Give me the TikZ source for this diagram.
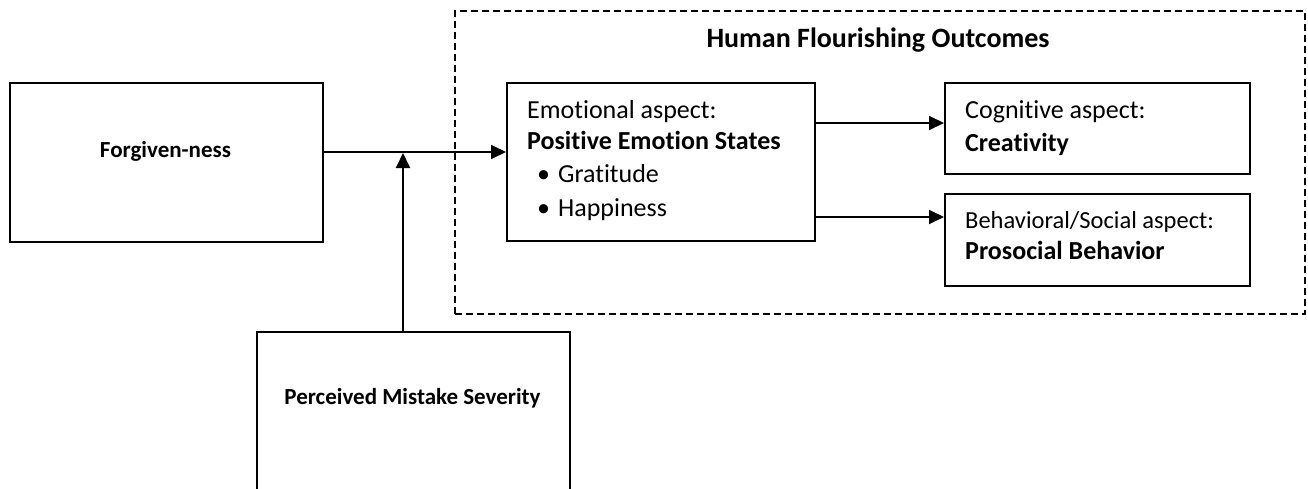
\documentclass[tikz,border=0pt]{standalone}
\usepackage{fontspec}
\setmainfont[Ligatures={NoCommon}]{Carlito}
\usetikzlibrary{arrows.meta,calc}
\tikzset{
  box/.style={draw, line width=1.9pt, inner sep=0pt, anchor=north west},
  arr/.style={line width=1.9pt, -{Triangle[length=15pt,width=14pt]}},
  txt/.style={inner sep=0pt, anchor=base west, font=\fontsize{26}{32}\selectfont},
  btxt/.style={inner sep=0pt, anchor=base west, font=\fontsize{26}{32}\selectfont\bfseries},
  ctxt/.style={inner sep=0pt, anchor=base, font=\fontsize{23}{28}\selectfont\bfseries},
}
\begin{document}
\begin{tikzpicture}[x=1pt,y=-1pt]
\useasboundingbox (0,0) rectangle (1308,488);
% dashed group
\node[draw, dash pattern=on 7pt off 4pt, line width=1.9pt, inner sep=0pt, anchor=north west,
      minimum width=850pt, minimum height=303pt] (group) at (454,10) {};
\node[inner sep=0pt, anchor=base, font=\fontsize{28}{34}\selectfont\bfseries] (title) at (878,47) {Human Flourishing Outcomes};
% boxes
\node[box, minimum width=313pt, minimum height=159pt] (forg) at (9,82) {};
\node[ctxt] (forgt) at (165.5,157) {Forgiven-ness};
\node[box, minimum width=313pt, minimum height=180pt] (pms) at (256,331) {};
\node[ctxt] (pmst) at (412.5,404) {Perceived Mistake Severity};
\node[box, minimum width=308pt, minimum height=158pt] (emo) at (506,82) {};
\node[txt] (emo1) at (527,118) {Emotional aspect:};
\node[btxt] (emo2) at (527,149) {Positive Emotion States};
\node[txt] (emo3) at (537,182) {\textbullet\hspace{8pt}Gratitude};
\node[txt] (emo4) at (537,216) {\textbullet\hspace{8pt}Happiness};
\node[box, minimum width=305pt, minimum height=91pt] (cog) at (944,82) {};
\node[txt] (cog1) at (965,118) {Cognitive aspect:};
\node[btxt] (cog2) at (965,151) {Creativity};
\node[box, minimum width=305pt, minimum height=92pt] (beh) at (944,193) {};
\node[inner sep=0pt, anchor=base west, font=\fontsize{24.5}{30}\selectfont] (beh1) at (965,228) {Behavioral/Social aspect:};
\node[btxt] (beh2) at (965,259) {Prosocial Behavior};
% connectors
\coordinate (mid) at (403,152);
\coordinate (up) at (0,123);
\coordinate (lo) at (0,217);
\draw[arr] (forg.east |- mid) -- (emo.west |- mid);
\draw[arr] (pms.north -| mid) -- ($(mid)+(0,1)$);
\draw[arr] (emo.east |- up) -- (cog.west |- up);
\draw[arr] (emo.east |- lo) -- (beh.west |- lo);
\end{tikzpicture}
\end{document}
